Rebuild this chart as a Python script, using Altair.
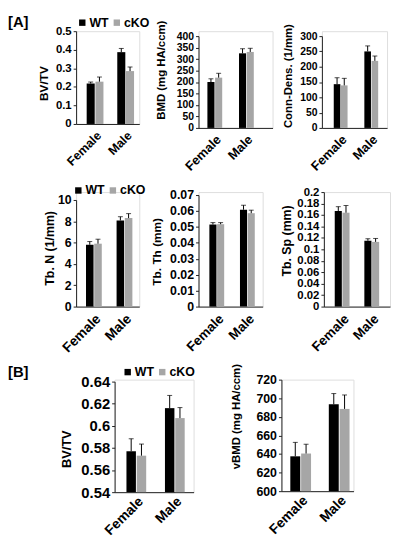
import altair as alt
import pandas as pd

FONT = "Liberation Sans"
AXIS_COLOR = "#222222"

sexes = ["Female", "Male"]
genotypes = ["WT", "cKO"]
bar_colors = ["#000000", "#a6a6a6"]

# ---- [A] row 1 ----
bvtv_a_wt = [0.218, 0.387]
bvtv_a_cko = [0.228, 0.285]
bvtv_a_wt_err = [0.008, 0.020]
bvtv_a_cko_err = [0.025, 0.022]
bvtv_a_ticks = [0, 0.1, 0.2, 0.3, 0.4, 0.5]

bmd_wt = [200, 325]
bmd_cko = [219, 331]
bmd_wt_err = [14, 20]
bmd_cko_err = [19, 16]
bmd_ticks = [0, 50, 100, 150, 200, 250, 300, 350, 400]

conn_wt = [143, 250]
conn_cko = [139, 219]
conn_wt_err = [21, 18]
conn_cko_err = [23, 16]
conn_ticks = [0, 50, 100, 150, 200, 250, 300]

# ---- [A] row 2 ----
tbn_wt = [5.8, 8.08]
tbn_cko = [5.9, 8.3]
tbn_wt_err = [0.30, 0.35]
tbn_cko_err = [0.42, 0.42]
tbn_ticks = [0, 2, 4, 6, 8, 10]

tbth_wt = [0.0515, 0.0608]
tbth_cko = [0.0517, 0.0586]
tbth_wt_err = [0.0012, 0.0028]
tbth_cko_err = [0.0010, 0.0019]
tbth_ticks = [0, 0.01, 0.02, 0.03, 0.04, 0.05, 0.06, 0.07]

tbsp_wt = [0.167, 0.115]
tbsp_cko = [0.164, 0.113]
tbsp_wt_err = [0.0075, 0.0035]
tbsp_cko_err = [0.0125, 0.0060]
tbsp_ticks = [0, 0.02, 0.04, 0.06, 0.08, 0.1, 0.12, 0.14, 0.16, 0.18, 0.2]

# ---- [B] ----
bvtv_b_wt = [0.577, 0.616]
bvtv_b_cko = [0.573, 0.607]
bvtv_b_wt_err = [0.0113, 0.0115]
bvtv_b_cko_err = [0.0105, 0.0095]
bvtv_b_ticks = [0.54, 0.56, 0.58, 0.6, 0.62, 0.64]

vbmd_wt = [637.5, 693.5]
vbmd_cko = [640.5, 688.5]
vbmd_wt_err = [15, 11.5]
vbmd_cko_err = [10, 15]
vbmd_ticks = [600, 620, 640, 660, 680, 700, 720]


def make_df(wt, cko, wt_err, cko_err):
    rows = []
    for i, s in enumerate(sexes):
        rows.append({"sex": s, "geno": "WT", "mean": wt[i], "err": wt_err[i]})
        rows.append({"sex": s, "geno": "cKO", "mean": cko[i], "err": cko_err[i]})
    df = pd.DataFrame(rows)
    df["top"] = df["mean"] + df["err"]
    return df


def panel(df, ticks, title, c, legend):
    W, H = c["W"], c["H"]
    s, g, a = c["s"], c["g"], c["a"]
    pi = 1 - g / s
    po = (W / s - 2 + pi) / 2
    al = a / (W - s * (2 - pi))
    xscale = alt.Scale(domain=sexes, paddingInner=pi, paddingOuter=po, align=al)
    xaxis = alt.Axis(
        title=None, labelAngle=315, labelAlign="right", labelBaseline="top",
        labelFontSize=c["xfs"], labelFontWeight="bold", labelColor="black",
        labelFont=FONT, labelPadding=c.get("xlp", 5), labelOffset=c.get("xlo", 0),
        ticks=False, domainColor=AXIS_COLOR, domainWidth=1,
    )
    ymin, ymax = ticks[0], ticks[-1]
    yscale = alt.Scale(domain=[ymin, ymax], range=[H, c["r0"]], nice=False, zero=False)
    yaxis = alt.Axis(
        title=title, values=ticks, format=".6~g", grid=False,
        tickSize=3, tickColor=AXIS_COLOR, domainColor=AXIS_COLOR,
        labelFontSize=c["lfs"], labelFontWeight="bold", labelColor="black",
        labelFont=FONT, labelPadding=2, labelOverlap=False,
        titleFont=FONT, titleFontSize=c["tfs"], titleFontWeight="bold",
        titleColor="black", titlePadding=0,
        minExtent=c["D"], maxExtent=c["D"], titleY=c["ty"],
    )
    x = alt.X("sex:N", scale=xscale, axis=xaxis)
    xo = alt.XOffset("geno:N", scale=alt.Scale(domain=genotypes, paddingInner=0.08))
    color = alt.Color("geno:N", scale=alt.Scale(domain=genotypes, range=bar_colors),
                      legend=legend)
    base = alt.Chart(df)
    bars = base.mark_bar().encode(
        x=x, xOffset=xo,
        y=alt.Y("mean:Q", scale=yscale, axis=yaxis),
        y2=alt.datum(ymin),
        color=color,
    )
    err = base.mark_rule(color="black", strokeWidth=1).encode(
        x=x, xOffset=xo,
        y=alt.Y("mean:Q", scale=yscale, axis=yaxis),
        y2="top:Q",
    )
    cap = base.mark_tick(color="black", thickness=1, size=5, orient="horizontal").encode(
        x=x, xOffset=xo,
        y=alt.Y("top:Q", scale=yscale, axis=yaxis),
    )
    # invisible layout guide fixing this panel's extents
    guide = base.mark_rule(opacity=0, strokeOpacity=0, strokeWidth=0, color="white").encode(
        x=alt.value(c["xL"]), x2=alt.value(c["xR"]),
        y=alt.value(-c["t"]), y2=alt.value(c["yB"]),
    )
    return alt.layer(guide, bars, err, cap).properties(width=W, height=H)


def lead(w):
    # invisible leading cell that sets where a row's first panel starts
    return (
        alt.Chart(pd.DataFrame({"v": [0]}))
        .mark_rule(opacity=0, strokeOpacity=0, strokeWidth=0, color="white")
        .encode(x=alt.value(0), x2=alt.value(w), y=alt.value(0))
        .properties(width=w, height=1,
                    view=alt.ViewBackground(stroke="white", strokeOpacity=0, strokeWidth=0))
    )


def legend_spec(title, lx, ly, tpad, lfs, sym):
    kw = dict(
        orient="none", legendX=lx, legendY=ly, direction="horizontal",
        symbolType="square", symbolSize=sym, symbolStrokeWidth=0, symbolOpacity=1,
        labelFontSize=lfs, labelFontWeight="bold", labelColor="black", labelFont=FONT,
        columnPadding=2, labelOffset=1, padding=0,
    )
    if title is None:
        kw["title"] = None
    else:
        kw.update(title=title, titleOrient="left", titleFontSize=15,
                  titleFontWeight="bold", titleColor="black", titleFont=FONT,
                  titlePadding=tpad)
    return alt.Legend(**kw)


# layout / style per panel
c1 = dict(W=64, H=94, r0=0, a=10.7, s=31, g=17, D=25.5, ty=52.5, lfs=11.5, tfs=12, xfs=12.5,
          t=19, yB=153, xL=-50, xR=73)
c2 = dict(W=75, H=98, r0=5, a=9, s=32, g=15, D=32, ty=39, lfs=10.5, tfs=11.5, xfs=13,
          t=19, yB=153, xL=-49, xR=77)
c3 = dict(W=66, H=98, r0=5, a=12, s=31, g=14, D=29, ty=45, lfs=10.5, tfs=11.5, xfs=13,
          t=19, yB=153, xL=-46, xR=66)
c4 = dict(W=64, H=116, r0=8, a=10, s=31, g=16, D=20, ty=56.5, lfs=12.5, tfs=12.5, xfs=14,
          t=8, yB=172, xL=-50, xR=68)
c5 = dict(W=65, H=116, r0=3, a=11, s=31, g=15, D=36, ty=60, lfs=12.5, tfs=12, xfs=13.5,
          t=8, yB=172, xL=-54, xR=76)
c6 = dict(W=67, H=116, r0=0, a=11, s=30, g=15, D=31, ty=49, lfs=11.5, tfs=12.5, xfs=13.5,
          t=8, yB=172, xL=-49, xR=67)
c7 = dict(W=80, H=114, r0=2, a=12, s=39, g=20, D=42, ty=70, lfs=15, tfs=13, xfs=14, xlp=2,
          t=15, yB=0, xL=-59, xR=108)
c8 = dict(W=73, H=113, r0=0, a=9, s=39, g=21, D=40, ty=37, lfs=12.5, tfs=11.5, xfs=14, xlp=2,
          t=15, yB=0, xL=-59, xR=73)

legA = legend_spec("[A]", 0, -15, 48, 12.5, 42)
legA2 = legend_spec(None, 65, -8, 0, 12.5, 42)
legB = legend_spec("[B]", 0, -14, 94, 12.5, 42)

p1 = panel(make_df(bvtv_a_wt, bvtv_a_cko, bvtv_a_wt_err, bvtv_a_cko_err), bvtv_a_ticks, "BV/TV", c1, legA)
p2 = panel(make_df(bmd_wt, bmd_cko, bmd_wt_err, bmd_cko_err), bmd_ticks, "BMD (mg HA/ccm)", c2, legA)
p3 = panel(make_df(conn_wt, conn_cko, conn_wt_err, conn_cko_err), conn_ticks, "Conn-Dens. (1/mm)", c3, legA)
p4 = panel(make_df(tbn_wt, tbn_cko, tbn_wt_err, tbn_cko_err), tbn_ticks, "Tb. N (1/mm)", c4, legA2)
p5 = panel(make_df(tbth_wt, tbth_cko, tbth_wt_err, tbth_cko_err), tbth_ticks, "Tb. Th (mm)", c5, legA2)
p6 = panel(make_df(tbsp_wt, tbsp_cko, tbsp_wt_err, tbsp_cko_err), tbsp_ticks, "Tb. Sp (mm)", c6, legA2)
p7 = panel(make_df(bvtv_b_wt, bvtv_b_cko, bvtv_b_wt_err, bvtv_b_cko_err), bvtv_b_ticks, "BV/TV", c7, legB)
p8 = panel(make_df(vbmd_wt, vbmd_cko, vbmd_wt_err, vbmd_cko_err), vbmd_ticks, "vBMD (mg HA/ccm)", c8, legB)

row1 = alt.hconcat(lead(18), p1, p2, p3, spacing=0).resolve_scale(xOffset="independent")
row2 = alt.hconcat(lead(18), p4, p5, p6, spacing=0).resolve_scale(xOffset="independent")
row3 = alt.hconcat(lead(48), p7, p8, spacing=0).resolve_scale(xOffset="independent")

chart = (
    alt.vconcat(row1, row2, row3, spacing=0)
    .resolve_scale(color="independent", xOffset="independent")
    .resolve_legend(color="independent")
    .properties(padding=0)
    .configure_view(stroke=None)
    .configure(font=FONT)
)

chart.save("out.html", embed_options={"renderer": "svg", "actions": False})
